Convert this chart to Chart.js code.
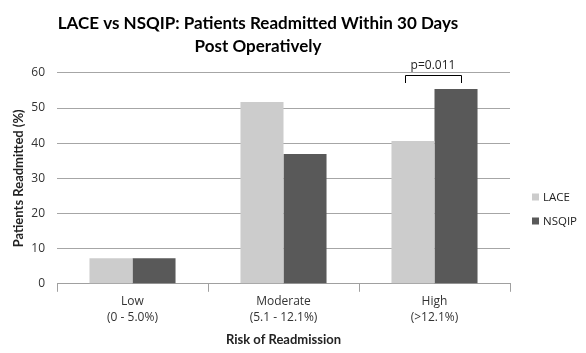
<!DOCTYPE html>
<html><head><meta charset="utf-8">
<script src="https://cdn.jsdelivr.net/npm/chart.js@4.4.0/dist/chart.umd.min.js"></script>
<style>html,body{margin:0;padding:0;background:#fff}#wrap{width:586px;height:353px}</style>
</head><body><div id="wrap"><canvas id="c" width="586" height="353"></canvas></div>
<script>
const categories = [["Low","(0 - 5.0%)"],["Moderate","(5.1 - 12.1%)"],["High","(>12.1%)"]];
const laceValues = [7.3, 51.7, 40.6];
const nsqipValues = [7.3, 36.9, 55.4];
const yTicks = [0,10,20,30,40,50,60];
const seriesNames = ["LACE","NSQIP"];
const seriesColors = ["#cccccc","#595959"];
const annotationText = "p=0.011";
const annotatedCategory = 2;

const FONT = "Lato, 'Open Sans', sans-serif";

const extras = {
  id:'extras',
  afterDatasetsDraw(chart){
    const ctx = chart.ctx;
    const m0 = chart.getDatasetMeta(0).data[annotatedCategory];
    const m1 = chart.getDatasetMeta(1).data[annotatedCategory];
    const x0 = m0.x - 8, x1 = m1.x + 5;
    const y = Math.round(chart.scales.y.getPixelForValue(59.5));
    ctx.save();
    ctx.strokeStyle = '#000'; ctx.lineWidth = 1;
    ctx.beginPath();
    ctx.moveTo(Math.round(x0)+0.5, y+8); ctx.lineTo(Math.round(x0)+0.5, y+0.5);
    ctx.lineTo(Math.round(x1)+0.5, y+0.5); ctx.lineTo(Math.round(x1)+0.5, y+8);
    ctx.stroke();
    ctx.fillStyle = '#222'; ctx.font = "12px 'Open Sans', sans-serif";
    ctx.textAlign='center'; ctx.textBaseline='bottom';
    ctx.fillText(annotationText, (x0+x1)/2, y-3);
    const lx = 532, ly = [197, 221];
    ctx.font = "11.5px 'Open Sans', sans-serif"; ctx.textAlign='left'; ctx.textBaseline='middle';
    seriesNames.forEach((n,i)=>{
      ctx.fillStyle = seriesColors[i];
      ctx.fillRect(lx, ly[i]-3.5, 7, 7);
      ctx.fillStyle = '#222';
      ctx.fillText(n, lx+11, ly[i]+0.5);
    });
    ctx.restore();
  }
};

new Chart(document.getElementById('c'), {
  type:'bar',
  data:{
    labels: categories,
    datasets:[
      {label:seriesNames[0], data:laceValues, backgroundColor:seriesColors[0], categoryPercentage:0.57, barPercentage:1.0},
      {label:seriesNames[1], data:nsqipValues, backgroundColor:seriesColors[1], categoryPercentage:0.57, barPercentage:1.0}
    ]
  },
  options:{
    responsive:false, animation:false, devicePixelRatio:1,
    layout:{padding:{left:6,right:76,top:10,bottom:5}},
    plugins:{
      legend:{display:false},
      tooltip:{enabled:false},
      title:{display:true, text:["LACE vs NSQIP: Patients Readmitted Within 30 Days","Post Operatively"],
        color:'#000', font:{family:FONT, size:17, weight:'bold', lineHeight:1.35}, padding:{top:2,bottom:15}}
    },
    scales:{
      x:{
        grid:{display:true, drawOnChartArea:false, drawTicks:true, tickLength:8, color:'#a0a0a0', offset:true},
        border:{display:true, color:'#a0a0a0'},
        ticks:{color:'#333', font:{family:"'Open Sans', sans-serif", size:12, lineHeight:1.4}, padding:1},
        title:{display:true, text:'Risk of Readmission', color:'#222', font:{family:FONT, size:13, weight:'bold'}, padding:{top:5,bottom:0}}
      },
      y:{
        min:0, max:60,
        afterBuildTicks(s){ s.ticks = yTicks.map(v=>({value:v})); },
        afterFit(s){ s.width = 51; },
        grid:{color:'#a6a6a6', drawTicks:false},
        border:{display:false},
        ticks:{color:'#333', font:{family:"'Open Sans', sans-serif", size:12}, padding:12},
        title:{display:true, text:'Patients Readmitted (%)', color:'#222', font:{family:FONT, size:13, weight:'bold'}, padding:{top:5,bottom:6}}
      }
    }
  },
  plugins:[extras]
});
</script></body></html>
